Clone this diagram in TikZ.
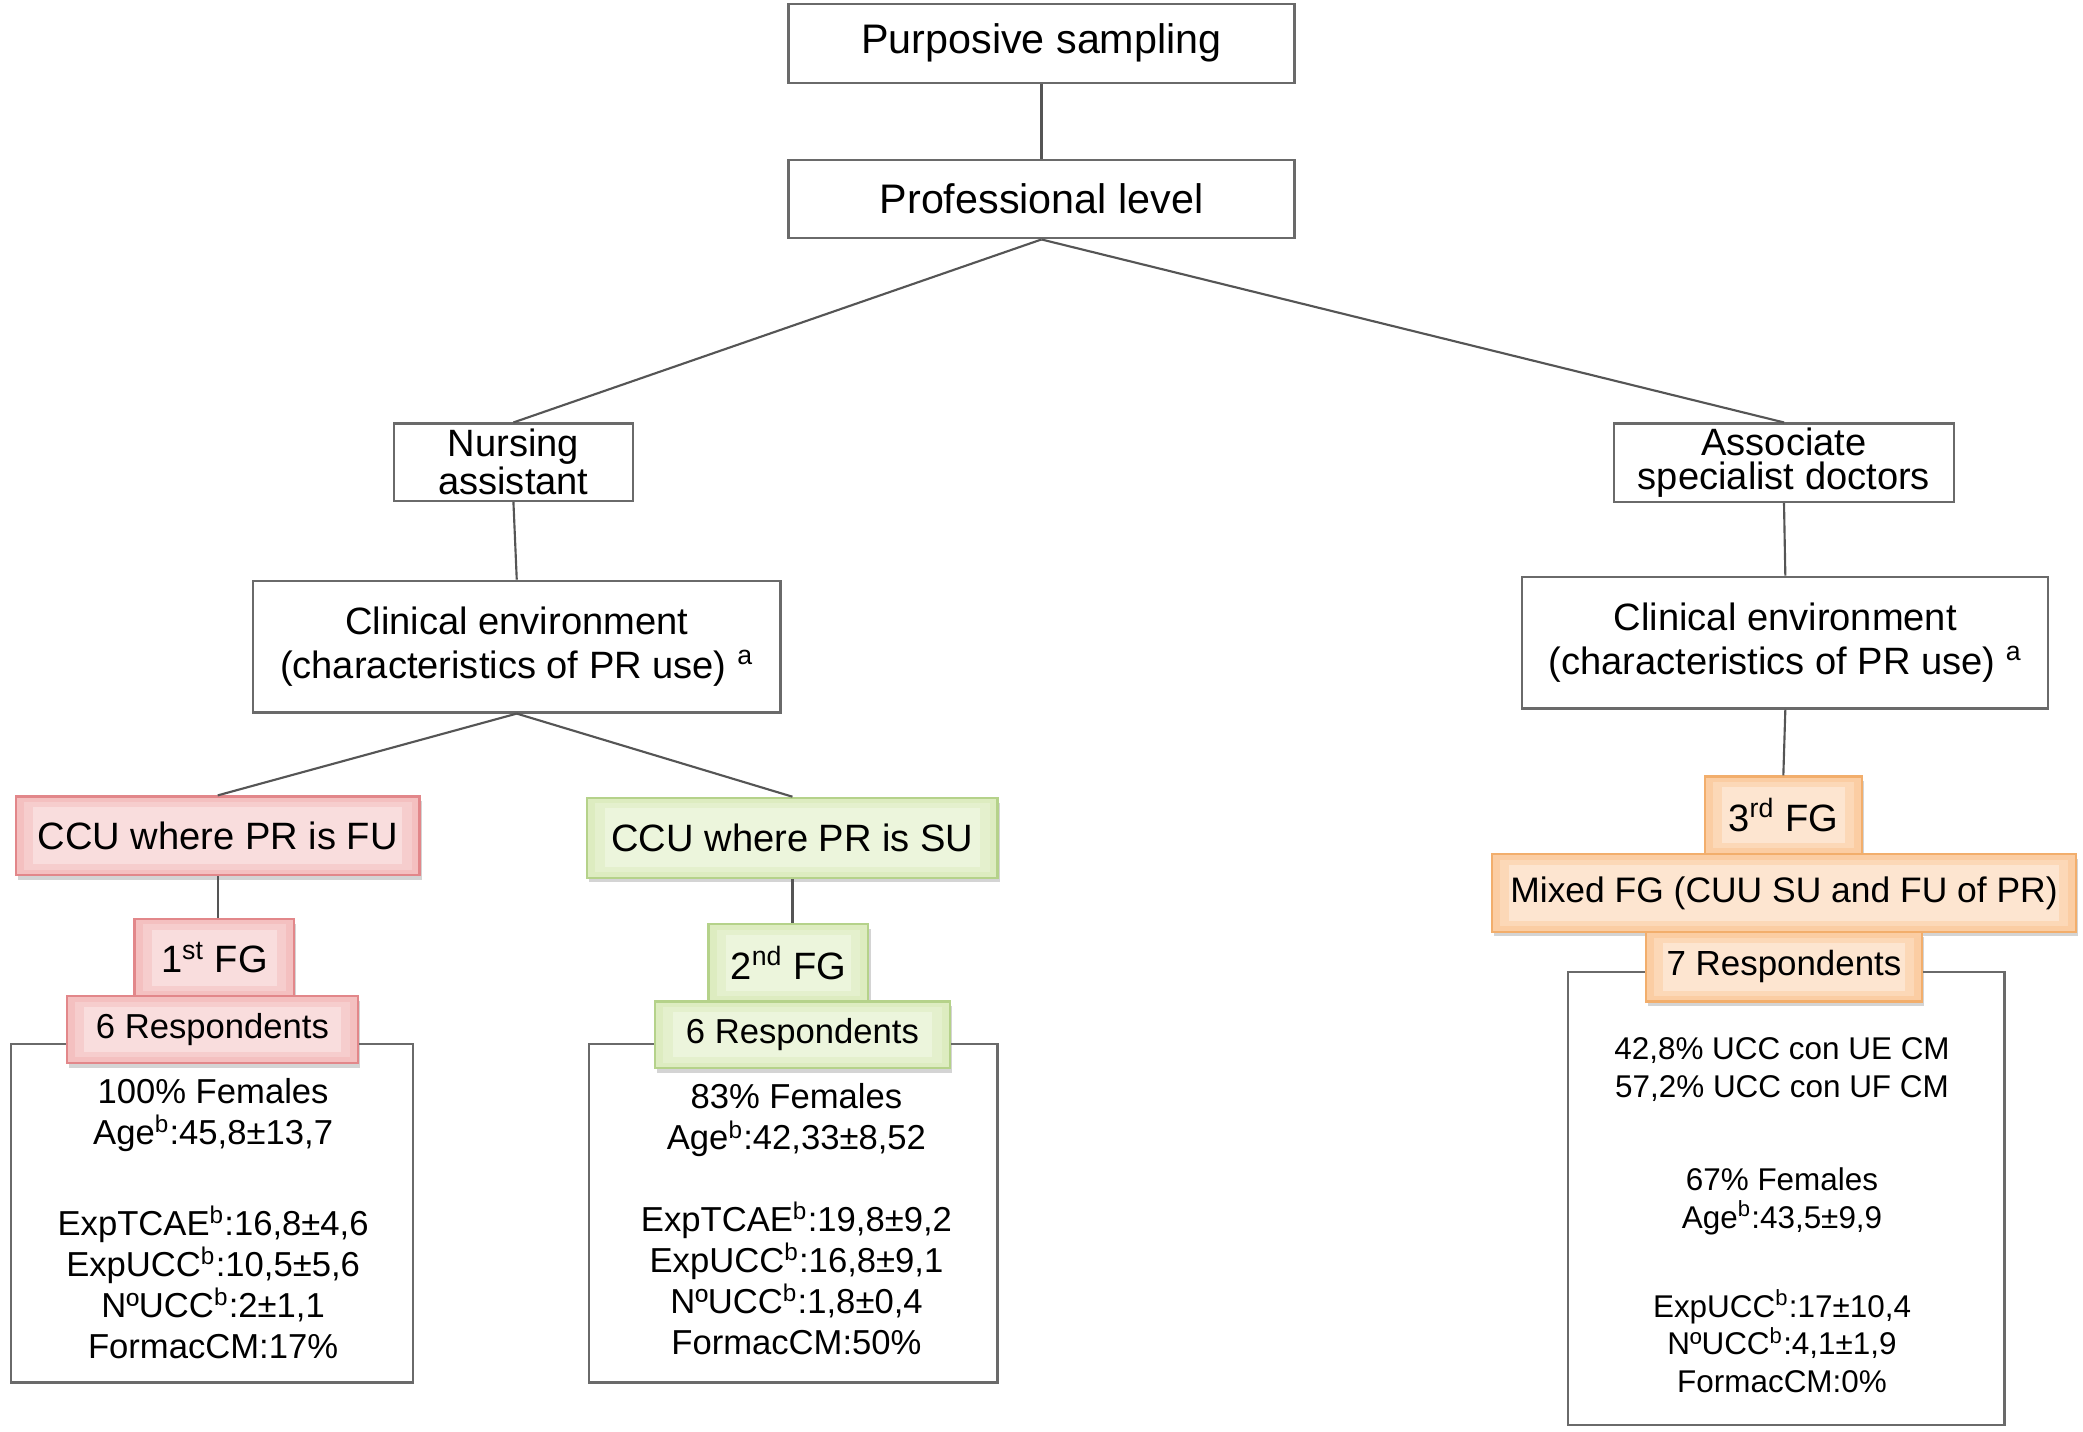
\documentclass[tikz,border=0pt]{standalone}
\usepackage{fontspec}
\setmainfont{Liberation Sans}
\usetikzlibrary{shadows}
\definecolor{lineg}{HTML}{555555}
\definecolor{boxg}{HTML}{6A6A6A}
\definecolor{pinkO}{HTML}{F4C0C0}
\definecolor{pinkI}{HTML}{F9DDDD}
\definecolor{pinkB}{HTML}{E2878A}
\definecolor{greenO}{HTML}{DDECC0}
\definecolor{greenI}{HTML}{ECF5DC}
\definecolor{greenB}{HTML}{B5D28A}
\definecolor{orO}{HTML}{FBCDA3}
\definecolor{orI}{HTML}{FDE5D0}
\definecolor{orB}{HTML}{F2AE6C}
\tikzset{
  x=0.5pt, y=-0.5pt,
  plain/.style={draw=boxg, line width=0.8pt, fill=white, inner sep=0pt, align=center},
  conn/.style={draw=lineg, line width=0.8pt},
  colbase/.style={line width=0.8pt, inner sep=0pt, align=center,
    drop shadow={shadow xshift=0.8pt, shadow yshift=-1.8pt, opacity=0.28, fill=black!60}},
  inner/.style 2 args={path picture={
    \fill[#1!55!#2] ([xshift=3pt,yshift=-2pt]path picture bounding box.north west) rectangle ([xshift=-3pt,yshift=2pt]path picture bounding box.south east);
    \fill[#2] ([xshift=6.5pt,yshift=-4pt]path picture bounding box.north west) rectangle ([xshift=-6.5pt,yshift=4pt]path picture bounding box.south east);}},
  pinkbox/.style={colbase, draw=pinkB, fill=pinkO, inner={pinkO}{pinkI}},
  greenbox/.style={colbase, draw=greenB, fill=greenO, inner={greenO}{greenI}},
  orbox/.style={colbase, draw=orB, fill=orO, inner={orO}{orI}},
  big/.style={font=\fontsize{15.5}{18}\selectfont},
  mid/.style={font=\fontsize{14.3}{13}\selectfont},
  midb/.style={font=\fontsize{14.3}{16.5}\selectfont},
  stat/.style={inner sep=0pt, align=center, font=\fontsize{13}{15.5}\selectfont},
  statr/.style={inner sep=0pt, align=center, font=\fontsize{11.8}{14.25}\selectfont},
}
\begin{document}
\begin{tikzpicture}
\useasboundingbox (0,0) rectangle (1564,1075);
% top
\node[plain, big, minimum width=190pt, minimum height=29.5pt] (ps) at (782,32.5) {Purposive sampling};
\node[plain, big, minimum width=190pt, minimum height=29.5pt] (pl) at (782,149.5) {Professional level};
\node[plain, mid, minimum width=89.5pt, minimum height=29pt] (na) at (385.5,347) {Nursing\\assistant};
\node[plain, mid, minimum width=127.5pt, minimum height=29.5pt] (asd) at (1339.5,347.5) {Associate\\specialist doctors};
\node[plain, midb, minimum width=198pt, minimum height=49.5pt] (cel) at (388,485.5) {Clinical environment\\(characteristics of PR use) \textsuperscript{a}};
\node[plain, midb, minimum width=197.5pt, minimum height=49.5pt] (cer) at (1340.5,482.5) {Clinical environment\\(characteristics of PR use) \textsuperscript{a}};
\draw[conn] (ps.south) -- (pl.north);
\draw[conn] (pl.south) -- (na.north);
\draw[conn] (pl.south) -- (asd.north);
\draw[conn] (na.south) -- (cel.north);
\draw[conn] (asd.south) -- (cer.north);
% stats boxes
\node[plain, minimum width=151pt, minimum height=127pt] (box1) at (159,911) {};
\node[plain, minimum width=153.5pt, minimum height=127pt] (box2) at (595.5,911) {};
\node[plain, minimum width=164pt, minimum height=170pt] (box3) at (1341,900) {};
% left branch
\node[pinkbox, mid, minimum width=151.5pt, minimum height=29.5pt] (ccufu) at (163.5,627.5) {CCU where PR is FU};
\node[greenbox, mid, minimum width=154pt, minimum height=30pt] (ccusu) at (595,629) {CCU where PR is SU};
\draw[conn] (cel.south) -- (ccufu.north);
\draw[conn] (cel.south) -- (ccusu.north);
\node[pinkbox, mid, minimum width=60pt, minimum height=29pt] (fg1) at (161,719) {1\textsuperscript{st} FG};
\node[pinkbox, font=\fontsize{13}{15}\selectfont, minimum width=109.5pt, minimum height=25pt] (r1) at (159.5,773) {6 Respondents};
\draw[conn] (ccufu.south) -- (ccufu.south |- fg1.north);
\node[greenbox, mid, minimum width=60pt, minimum height=29pt] (fg2) at (592,723) {2\textsuperscript{nd} FG};
\node[greenbox, font=\fontsize{13}{15}\selectfont, minimum width=110.5pt, minimum height=25pt] (r2) at (602.5,777) {6 Respondents};
\draw[conn] (ccusu.south) -- (ccusu.south |- fg2.north);
% right branch
\node[orbox, mid, minimum width=59pt, minimum height=29pt] (fg3) at (1339,612) {3\textsuperscript{rd} FG};
\node[orbox, font=\fontsize{13.3}{15}\selectfont, minimum width=219.5pt, minimum height=29pt] (mix) at (1339.5,670.5) {Mixed FG (CUU SU and FU of PR)};
\node[orbox, font=\fontsize{13.1}{15}\selectfont, minimum width=103.5pt, minimum height=26pt] (r3) at (1339.5,726) {7 Respondents};
\draw[conn] (cer.south) -- (fg3.north);
% stats text
\node[stat] (t1) at (160,915) {100\% Females\\Age\textsuperscript{b}:45,8±13,7\\[18.5pt]ExpTCAE\textsuperscript{b}:16,8±4,6\\ExpUCC\textsuperscript{b}:10,5±5,6\\NºUCC\textsuperscript{b}:2±1,1\\FormacCM:17\%};
\node[stat] (t2) at (598,915.5) {83\% Females\\Age\textsuperscript{b}:42,33±8,52\\[15pt]ExpTCAE\textsuperscript{b}:19,8±9,2\\ExpUCC\textsuperscript{b}:16,8±9,1\\NºUCC\textsuperscript{b}:1,8±0,4\\FormacCM:50\%};
\node[statr] (t3) at (1338,912.5) {42,8\% UCC con UE CM\\57,2\% UCC con UF CM\\[20.75pt]67\% Females\\Age\textsuperscript{b}:43,5±9,9\\[19pt]ExpUCC\textsuperscript{b}:17±10,4\\NºUCC\textsuperscript{b}:4,1±1,9\\FormacCM:0\%};
\end{tikzpicture}
\end{document}
